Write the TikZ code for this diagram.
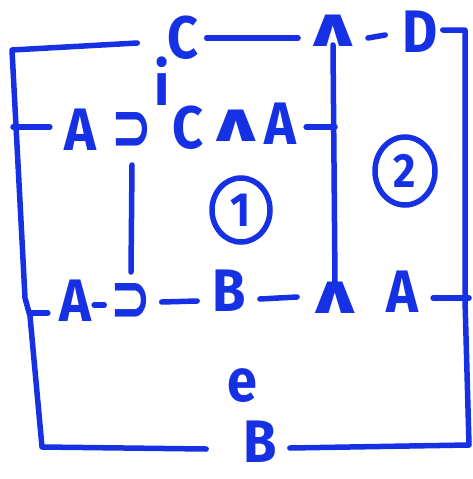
\documentclass[tikz,border=0pt]{standalone}
\usepackage{fontspec}
\usepackage{graphicx}
\newfontfamily\hand{Fira Sans}[FakeStretch=0.9]
\newfontfamily\symf{DejaVu Sans}
\usetikzlibrary{shapes.geometric}
\definecolor{ink}{RGB}{22,48,228}
\newcommand{\wedgeglyph}{\scalebox{1.15}[0.8]{∧}}
\newcommand{\impglyph}{\scalebox{0.72}[1]{⊃}}
\tikzset{
  lbl/.style={inner sep=0pt, text=ink, font=\hand\bfseries\fontsize{60}{62}\selectfont},
  sym/.style={inner sep=0pt, text=ink, font=\symf\bfseries\fontsize{68}{70}\selectfont},
  num/.style={draw=ink, ellipse, line width=5.5pt, inner sep=0pt, text=ink,
              font=\hand\bfseries\fontsize{48}{50}\selectfont},
  pen/.style={draw=ink, line width=5.5pt, line cap=round, line join=round}
}
\begin{document}
\begin{tikzpicture}[x=1pt,y=-1pt]
\useasboundingbox (0,0) rectangle (472,479);
% text nodes
\node[lbl] (C1) at (183,38) {C};
\node[lbl] (i) at (162,81) {i};
\node[sym] (wT) at (333,31) {\wedgeglyph};
\node[lbl] (D) at (420,32) {D};
\node[lbl] (A2) at (80,130) {A};
\node[sym] (imp2) at (132,132) {\impglyph};
\node[lbl] (C2) at (188,128) {C};
\node[sym] (w2) at (236,126) {\wedgeglyph};
\node[lbl] (A3) at (280,124) {A};
\node[lbl] (A4) at (75,301) {A};
\node[sym] (imp4) at (131,303) {\impglyph};
\node[lbl] (B4) at (229,291) {B};
\node[sym] (w4) at (335,298) {\wedgeglyph};
\node[lbl] (A5) at (402,292) {A};
\node[lbl] (e) at (242,386) {e};
\node[lbl] (B5) at (260,442) {B};
\node[num, minimum width=58pt, minimum height=64pt] (c1) at (241,210) {1};
\node[num, minimum width=60pt, minimum height=68pt] (c2) at (405,171) {2};
% corner coordinates
\coordinate (tl) at (12,50);
\coordinate (bl) at (42,447);
\coordinate (tr) at (465,30);
\coordinate (br) at (469,445);
% outer left bracket: from before C down to bottom B
\path[pen] ([xshift=-30pt]C1.west |- 0,43) -- (tl) -- (22,240) -- (25,298) -- (30,316) -- (bl) -- ([xshift=-37pt]B5.west |- 0,449);
\path[pen] (13,127) -- ([xshift=-14pt]A2.west |- 0,127);
\path[pen] (30,313) -- ([xshift=-11pt]A4.west |- 0,313);
% top row connectors
\path[pen] ([xshift=8pt]C1.east) -- ([xshift=-3pt]wT.west |- 0,38);
\path[pen] ([xshift=3pt]wT.east |- 0,38) -- ([xshift=-17pt]D.west |- 0,35);
\path[pen] ([xshift=5pt]D.east |- 0,30) -- (tr) -- (465,300) -- (br) -- ([xshift=13pt]B5.east |- 0,448);
% vertical line from top wedge to bottom wedge
\path[pen] ([yshift=2pt]wT.south) -- (w4.north);
% row 2 right tick
\path[pen] ([xshift=10pt]A3.east |- 0,127) -- (335,127);
% short vertical under A > C
\path[pen] (imp2.south |- 0,165) -- (131,272);
% row 3 dashes
\path[pen] ([xshift=3pt]A4.east |- 0,305) -- ([xshift=-6pt]imp4.west |- 0,305);
\path[pen] ([xshift=10pt]imp4.east |- 0,302) -- ([xshift=-15pt]B4.west |- 0,301);
\path[pen] ([xshift=14pt]B4.east |- 0,299) -- ([xshift=-6pt]w4.west |- 0,297);
\path[pen] ([xshift=15pt]A5.east |- 0,298) -- (br |- 0,298);
\end{tikzpicture}
\end{document}
